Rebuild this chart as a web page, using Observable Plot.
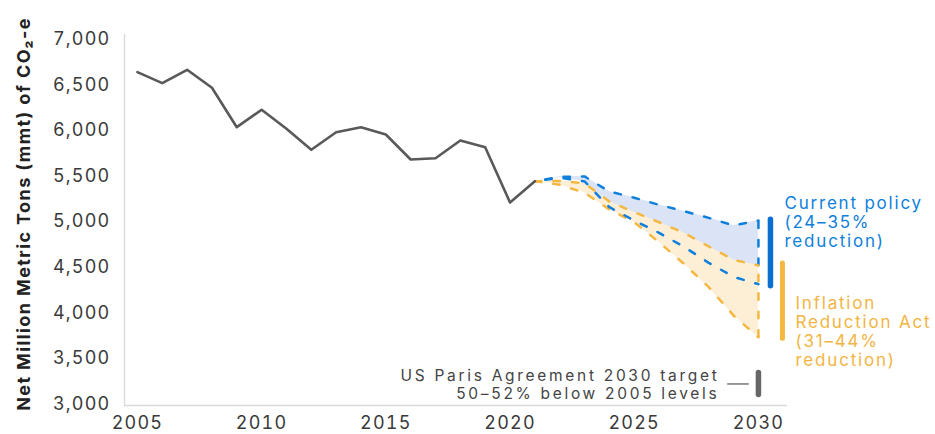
<!DOCTYPE html>
<html>
<head>
<meta charset="utf-8">
<script src="https://cdn.jsdelivr.net/npm/d3@7"></script>
<script src="https://cdn.jsdelivr.net/npm/@observablehq/plot@0.6"></script>
<style>
  html, body { margin: 0; padding: 0; background: #fff; }
  #chart svg { display: block; }
</style>
</head>
<body>
<div id="chart"></div>
<script>
// ---- Data ----
const histYears  = [2005, 2006, 2007, 2008, 2009, 2010, 2011, 2012, 2013, 2014, 2015, 2016, 2017, 2018, 2019, 2020, 2021];
const histValues = [6638, 6518, 6664, 6467, 6035, 6226, 6018, 5787, 5980, 6035, 5955, 5681, 5695, 5889, 5816, 5209, 5443];

const projYears = [2021, 2022, 2023, 2024, 2025, 2026, 2027, 2028, 2029, 2030];
const cpHigh    = [5443, 5491, 5495, 5330, 5261, 5184, 5114, 5041, 4957, 5012];
const cpLow     = [5443, 5480, 5440, 5158, 5012, 4877, 4724, 4548, 4394, 4314];
const iraHigh   = [5443, 5445, 5420, 5220, 5103, 4993, 4877, 4727, 4581, 4519];
const iraLow    = [5443, 5403, 5316, 5133, 4993, 4774, 4537, 4281, 3970, 3732];

const targetYear  = 2030;
const cpRange     = [4290, 5020];
const iraRange    = [3715, 4540];
const parisRange  = [3100, 3340];

const yTicks = [3000, 3500, 4000, 4500, 5000, 5500, 6000, 6500, 7000];
const xTicks = [2005, 2010, 2015, 2020, 2025, 2030];

const yLabel = "Net Million Metric Tons (mmt) of CO\u2082-e";
const cpLabel = "Current policy\n(24\u201335%\nreduction)";
const iraLabel = "Inflation\nReduction Act\n(31\u201344%\nreduction)";
const parisLabel = "US Paris Agreement 2030 target\n50\u201352% below 2005 levels";

// ---- Tables built from the arrays ----
const hist = histYears.map((year, i) => ({year, value: histValues[i]}));
const proj = projYears.map((year, i) => ({
  year, cpHigh: cpHigh[i], cpLow: cpLow[i], iraHigh: iraHigh[i], iraLow: iraLow[i]
}));
const last = proj[proj.length - 1];

const xDomain = [2004.48, 2031.17];
const yDomain = [2984, 7051];

const blue = "#0f7fdc", blueFill = "#dbe3f7", blueBar = "#0a6fd0";
const orange = "#f4b740", orangeFill = "#fdeed6", orangeText = "#f2b544";
const grey = "#595959";
const dash = "6.5,12";

const chart = Plot.plot({
  width: 935,
  height: 434,
  marginLeft: 124,
  marginRight: 148,
  marginTop: 34,
  marginBottom: 29,
  x: {domain: xDomain},
  y: {domain: yDomain},
  style: {fontFamily: "Inter, 'DejaVu Sans', sans-serif", fontSize: "18px", letterSpacing: "1.2px", color: "#3a3a3a", overflow: "visible"},
  marks: [
    // axis lines
    Plot.ruleX([xDomain[0]], {stroke: "#d9d9d9", strokeWidth: 1.3}),
    Plot.ruleY([yDomain[0]], {stroke: "#d9d9d9", strokeWidth: 1.3}),
    Plot.axisX(xTicks, {tickSize: 0, tickPadding: 11, tickFormat: d => String(d), label: null}),
    Plot.axisY(yTicks, {tickSize: 0, tickPadding: 14, tickFormat: d3.format(","), label: null}),
    Plot.text([yLabel], {frameAnchor: "left", textAnchor: "middle", dx: -100, dy: -6, rotate: -90, fontWeight: "bold", fontSize: 18, fill: "#222"}),

    // projection ranges
    Plot.areaY(proj, {x: "year", y1: "cpLow", y2: "cpHigh", fill: blueFill, curve: "linear"}),
    Plot.areaY(proj, {x: "year", y1: "iraLow", y2: "iraHigh", fill: orangeFill, curve: "linear"}),
    Plot.ruleX([last], {x: "year", y1: "iraHigh", y2: "cpHigh", stroke: blue, strokeWidth: 2.5, strokeDasharray: dash, strokeLinecap: "round"}),
    Plot.ruleX([last], {x: "year", y1: "iraLow", y2: "iraHigh", stroke: orange, strokeWidth: 2.5, strokeDasharray: dash, strokeLinecap: "round"}),
    Plot.lineY(proj, {x: "year", y: "iraHigh", stroke: orange, strokeWidth: 2.5, strokeDasharray: dash, strokeLinecap: "round"}),
    Plot.lineY(proj, {x: "year", y: "iraLow", stroke: orange, strokeWidth: 2.5, strokeDasharray: dash, strokeLinecap: "round"}),
    Plot.lineY(proj, {x: "year", y: "cpHigh", stroke: blue, strokeWidth: 2.5, strokeDasharray: dash, strokeDashoffset: 8, strokeLinecap: "round"}),
    Plot.lineY(proj, {x: "year", y: "cpLow", stroke: blue, strokeWidth: 2.5, strokeDasharray: dash, strokeDashoffset: 8, strokeLinecap: "round"}),

    // historical emissions
    Plot.lineY(hist, {x: "year", y: "value", stroke: grey, strokeWidth: 2.6}),

    // range bars
    Plot.ruleX([targetYear], {y1: cpRange[0], y2: cpRange[1], dx: 12, stroke: blueBar, strokeWidth: 5.5, strokeLinecap: "round"}),
    Plot.ruleX([targetYear], {y1: iraRange[0], y2: iraRange[1], dx: 24, stroke: orange, strokeWidth: 5, strokeLinecap: "round"}),
    Plot.ruleX([targetYear], {y1: parisRange[0], y2: parisRange[1], stroke: "#666", strokeWidth: 5.5, strokeLinecap: "round"}),
    Plot.ruleY([(parisRange[0] + parisRange[1]) / 2], {x1: targetYear - 1.24, x2: targetYear - 0.37, stroke: "#555", strokeWidth: 1.2}),

    // annotations
    Plot.text([cpLabel], {x: targetYear, y: 5000, dx: 26, textAnchor: "start", lineAnchor: "middle", lineHeight: 1.13, fill: blue, fontSize: 17}),
    Plot.text([iraLabel], {x: targetYear, y: 3795, dx: 37, textAnchor: "start", lineAnchor: "middle", lineHeight: 1.1, fill: orangeText, fontSize: 17}),
    Plot.text([parisLabel], {x: targetYear, y: 3221, dx: -39, textAnchor: "end", lineAnchor: "middle", lineHeight: 1.15, fill: "#444", fontSize: 15.5})
  ]
});

// per-label letter spacing (styling only)
const textGroups = d3.select(chart).selectAll('g[aria-label="text"]').nodes();
const spacings = ["1.4px", "1.8px", "1.8px", "2.7px"];
textGroups.forEach((g, i) => { if (spacings[i]) g.setAttribute("letter-spacing", spacings[i]); });

document.getElementById("chart").appendChild(chart);
</script>
</body>
</html>
